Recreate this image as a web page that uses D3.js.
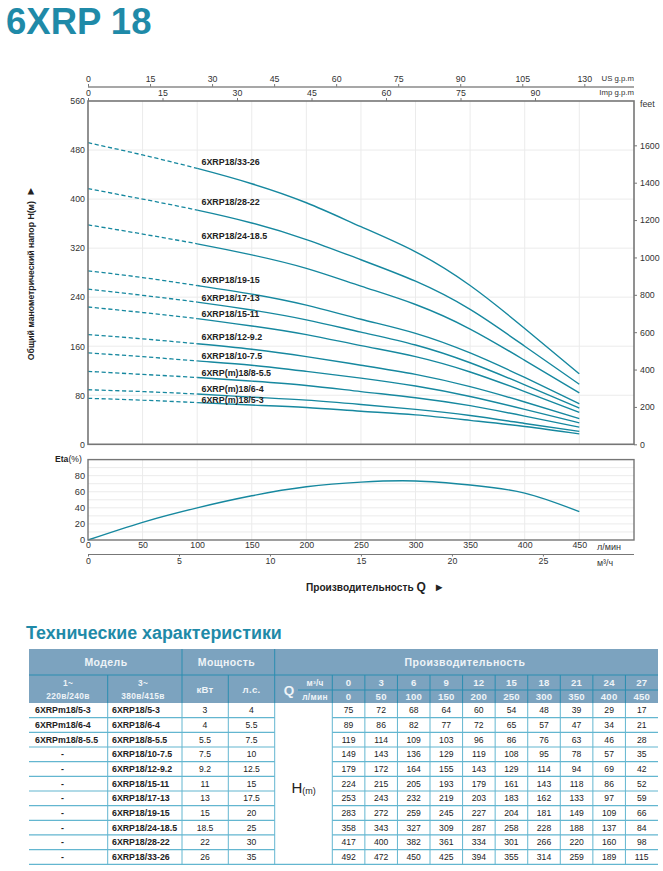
<!DOCTYPE html>
<html>
<head>
<meta charset="utf-8">
<script src="https://cdn.jsdelivr.net/npm/d3@7"></script>
<style>
  html, body { margin: 0; padding: 0; background: #fff; }
  svg { display: block; }
  text { font-family: "Liberation Sans", Arial, sans-serif; fill: #222; }
  .tick text { font-size: 8.8px; fill: #333; }
  .tick line { stroke: #777; }
  .etaTicks .tick text { font-size: 9.2px; }
  .curveLabel { font-size: 8.9px; font-weight: bold; fill: #222; }
  .cell { font-size: 8.6px; fill: #222; }
  .cellBold { font-size: 8.8px; font-weight: bold; fill: #222; }
  .head { font-weight: bold; fill: #eef3f7; }
</style>
</head>
<body>
<div id="chart"></div>
<script>
var flowM3h = [0, 3, 6, 9, 12, 15, 18, 21, 24, 27];
var flowLpm = [0, 50, 100, 150, 200, 250, 300, 350, 400, 450];

var modelsSingle = ["6XRPm18/5-3", "6XRPm18/6-4", "6XRPm18/8-5.5", "-", "-", "-", "-", "-", "-", "-", "-"];
var modelsThree = ["6XRP18/5-3", "6XRP18/6-4", "6XRP18/8-5.5", "6XRP18/10-7.5", "6XRP18/12-9.2", "6XRP18/15-11",
  "6XRP18/17-13", "6XRP18/19-15", "6XRP18/24-18.5", "6XRP18/28-22", "6XRP18/33-26"];
var curveNames = ["6XRP(m)18/5-3", "6XRP(m)18/6-4", "6XRP(m)18/8-5.5", "6XRP18/10-7.5", "6XRP18/12-9.2", "6XRP18/15-11",
  "6XRP18/17-13", "6XRP18/19-15", "6XRP18/24-18.5", "6XRP18/28-22", "6XRP18/33-26"];
var powerKw = ["3", "4", "5.5", "7.5", "9.2", "11", "13", "15", "18.5", "22", "26"];
var powerHp = ["4", "5.5", "7.5", "10", "12.5", "15", "17.5", "20", "25", "30", "35"];

var head5 = [75, 72, 68, 64, 60, 54, 48, 39, 29, 17];
var head6 = [89, 86, 82, 77, 72, 65, 57, 47, 34, 21];
var head8 = [119, 114, 109, 103, 96, 86, 76, 63, 46, 28];
var head10 = [149, 143, 136, 129, 119, 108, 95, 78, 57, 35];
var head12 = [179, 172, 164, 155, 143, 129, 114, 94, 69, 42];
var head15 = [224, 215, 205, 193, 179, 161, 143, 118, 86, 52];
var head17 = [253, 243, 232, 219, 203, 183, 162, 133, 97, 59];
var head19 = [283, 272, 259, 245, 227, 204, 181, 149, 109, 66];
var head24 = [358, 343, 327, 309, 287, 258, 228, 188, 137, 84];
var head28 = [417, 400, 382, 361, 334, 301, 266, 220, 160, 98];
var head33 = [492, 472, 450, 425, 394, 355, 314, 259, 189, 115];
var heads = [head5, head6, head8, head10, head12, head15, head17, head19, head24, head28, head33];

var etaQ = [0, 50, 100, 150, 200, 250, 300, 350, 400, 450];
var etaValues = [0, 22, 40, 55, 66.2, 72, 73.4, 68.4, 58.3, 35.3];

var usGpmLabels = ["0", "15", "30", "45", "60", "75", "90", "105", "130"];
var impGpmTicks = [0, 15, 30, 45, 60, 75, 90];
var headTicks = [0, 80, 160, 240, 320, 400, 480, 560];
var feetTicks = [0, 200, 400, 600, 800, 1000, 1200, 1400, 1600];
var etaTicks = [0, 20, 40, 60, 80];
var etaGrid = [10, 20, 30, 40, 50, 60, 70, 80, 90];
var m3hTicks = [0, 5, 10, 15, 20, 25];

var blue = "#1f8aa8";
var teal = "#16889f";
var gray = "#767676";
var gridColor = "#ebebeb";

var svg = d3.select("#chart").append("svg").attr("width", 663).attr("height", 871);

svg.append("text").attr("x", 6).attr("y", 33.5)
  .style("font-size", "36.5px").style("font-weight", "bold").style("fill", blue)
  .text("6XRP 18");

// Main plot
var left = 88, right = 634, top1 = 101, bottom1 = 444.3;
var x = d3.scaleLinear().domain([0, 450]).range([left, 579.3]);
var y = d3.scaleLinear().domain([0, 560]).range([bottom1, top1]);
var yFeet = d3.scaleLinear().domain([0, 560 * 3.2808]).range([bottom1, top1]);
var gridQ = flowLpm.slice(1);

svg.append("g").selectAll("line").data(gridQ).join("line")
  .attr("x1", d => x(d)).attr("x2", d => x(d)).attr("y1", top1).attr("y2", bottom1)
  .attr("stroke", gridColor);
svg.append("g").selectAll("line").data(headTicks.slice(1, -1)).join("line")
  .attr("x1", left).attr("x2", right).attr("y1", d => y(d)).attr("y2", d => y(d))
  .attr("stroke", gridColor);

// curves are dashed up to 100 l/min and solid after, same path clipped in two
var defs = svg.append("defs");
defs.append("clipPath").attr("id", "dashPart").append("rect")
  .attr("x", left).attr("y", top1).attr("width", x(100) - left).attr("height", bottom1 - top1);
defs.append("clipPath").attr("id", "solidPart").append("rect")
  .attr("x", x(100)).attr("y", top1).attr("width", right - x(100)).attr("height", bottom1 - top1);

var line = d3.line().x(d => x(d[0])).y(d => y(d[1])).curve(d3.curveNatural);
heads.forEach(function (h) {
  var pts = flowLpm.map((q, i) => [q, h[i]]);
  svg.append("path").attr("d", line(pts)).attr("fill", "none").attr("clip-path", "url(#dashPart)")
    .attr("stroke", teal).attr("stroke-width", 1.3).attr("stroke-dasharray", "4.2 2.6");
  svg.append("path").attr("d", line(pts)).attr("fill", "none").attr("clip-path", "url(#solidPart)")
    .attr("stroke", teal).attr("stroke-width", 1.4);
});

// how far each curve label sits above its curve at 100 l/min
var labelLift = [2.3, 5, 4.5, 5, 7, 5, 4.5, 6, 7.4, 8, 6.4];
svg.append("g").selectAll("text").data(curveNames).join("text")
  .attr("class", "curveLabel")
  .attr("x", 201.5)
  .attr("y", (d, i) => y(heads[i][2]) - labelLift[i] + 3)
  .text(d => d);

svg.append("rect").attr("x", left).attr("y", top1).attr("width", right - left).attr("height", bottom1 - top1)
  .attr("fill", "none").attr("stroke", gray).attr("stroke-width", 1.6);

var axisLeftG = svg.append("g").attr("transform", "translate(" + left + ",0)")
  .call(d3.axisLeft(y).tickValues(headTicks).tickSize(0).tickPadding(3));
axisLeftG.select(".domain").remove();

var axisRightG = svg.append("g").attr("transform", "translate(" + right + ",0)")
  .call(d3.axisRight(yFeet).tickValues(feetTicks).tickSize(3).tickPadding(3).tickFormat(d3.format("d")));
axisRightG.select(".domain").remove();

svg.append("text").attr("x", 640).attr("y", 107).style("font-size", "8.8px").style("fill", "#333").text("feet");

// Top flow axes
var xUs = d3.scalePoint().domain(usGpmLabels).range([left, 584.3]);
var usG = svg.append("g").attr("transform", "translate(0,87)")
  .call(d3.axisTop(xUs).tickSize(3).tickPadding(2));
usG.select(".domain").remove();
svg.append("line").attr("x1", left).attr("x2", right).attr("y1", 87).attr("y2", 87)
  .attr("stroke", "#8a8a8a").attr("stroke-width", 1.4);

var xImp = d3.scaleLinear().domain([0, 90]).range([left, 535]);
var impG = svg.append("g").attr("transform", "translate(0," + top1 + ")")
  .call(d3.axisTop(xImp).tickValues(impGpmTicks).tickSize(3).tickPadding(2).tickFormat(d3.format("d")));
impG.select(".domain").remove();

svg.append("text").attr("x", 634).attr("y", 80.5).attr("text-anchor", "end")
  .style("font-size", "7.8px").style("fill", "#333").text("US g.p.m");
svg.append("text").attr("x", 634).attr("y", 94.5).attr("text-anchor", "end")
  .style("font-size", "7.8px").style("fill", "#333").text("Imp g.p.m");

// text is rotated, so the right-pointing triangle ends up pointing up
var yTitle = svg.append("text").attr("transform", "translate(34,273) rotate(-90)").attr("text-anchor", "middle")
  .style("font-size", "8.7px").style("font-weight", "bold");
yTitle.append("tspan").text("Общий манометрический напор H(м) ");
yTitle.append("tspan").attr("dx", 2).style("font-size", "11px").text("►");

// Efficiency plot
var top2 = 459.6, bottom2 = 540;
var yEta = d3.scaleLinear().domain([0, 100]).range([bottom2, top2]);

svg.append("g").selectAll("line").data(gridQ).join("line")
  .attr("x1", d => x(d)).attr("x2", d => x(d)).attr("y1", top2).attr("y2", bottom2)
  .attr("stroke", gridColor);
svg.append("g").selectAll("line").data(etaGrid).join("line")
  .attr("x1", left).attr("x2", right).attr("y1", d => yEta(d)).attr("y2", d => yEta(d))
  .attr("stroke", gridColor);

var etaLine = d3.line().x(d => x(d[0])).y(d => yEta(d[1])).curve(d3.curveNatural);
svg.append("path").attr("d", etaLine(etaQ.map((q, i) => [q, etaValues[i]])))
  .attr("fill", "none").attr("stroke", teal).attr("stroke-width", 1.4);

svg.append("rect").attr("x", left).attr("y", top2).attr("width", right - left).attr("height", bottom2 - top2)
  .attr("fill", "none").attr("stroke", gray).attr("stroke-width", 1.4);

var etaAxis = svg.append("g").attr("class", "etaTicks").attr("transform", "translate(" + left + ",0)")
  .call(d3.axisLeft(yEta).tickValues(etaTicks).tickSize(0).tickPadding(3));
etaAxis.select(".domain").remove();

var etaLabel = svg.append("text").attr("x", 55).attr("y", 462).style("font-size", "8.6px");
etaLabel.append("tspan").style("font-weight", "bold").text("Eta");
etaLabel.append("tspan").text("(%)");

var lpmAxis = svg.append("g").attr("transform", "translate(0," + bottom2 + ")")
  .call(d3.axisBottom(x).tickValues(flowLpm).tickSize(0).tickPadding(2));
lpmAxis.select(".domain").remove();
svg.append("text").attr("x", 597).attr("y", 549.5).style("font-size", "9px").style("fill", "#333").text("л/мин");

var xM3h = d3.scaleLinear().domain([0, 27]).range([left, 579.3]);
var m3hAxis = svg.append("g").attr("transform", "translate(0,554.5)")
  .call(d3.axisBottom(xM3h).tickValues(m3hTicks).tickSize(2).tickPadding(1).tickFormat(d3.format("d")));
m3hAxis.select(".domain").remove();
svg.append("line").attr("x1", left).attr("x2", right).attr("y1", 554.5).attr("y2", 554.5)
  .attr("stroke", "#777").attr("stroke-width", 1);
svg.append("text").attr("x", 597).attr("y", 565.5).style("font-size", "8.8px").style("fill", "#333").text("м³/ч");

var qTitle = svg.append("text").attr("x", 306).attr("y", 590.5).style("font-size", "10.1px").style("font-weight", "bold");
qTitle.append("tspan").text("Производительность ");
qTitle.append("tspan").style("font-size", "12px").text("Q");
qTitle.append("tspan").attr("dx", 8).style("font-size", "11px").text("►");

svg.append("text").attr("x", 26).attr("y", 638.5)
  .style("font-size", "17.85px").style("font-weight", "bold").style("fill", blue)
  .text("Технические характеристики");

// Table
var tableLeft = 29, tableRight = 658;
var rowTop = 703, rowH = (864.3 - 703) / 11;
var flowX = d3.scaleBand().domain(flowLpm).range([332.3, 658]);
var headFill = "#7ca3bf", divider = "#2b8db0", rowLine = "#63b6d0";

svg.append("rect").attr("x", tableLeft).attr("y", 649).attr("width", tableRight - tableLeft).attr("height", 54)
  .attr("fill", headFill);

function rule(x1, y1, x2, y2, color, w) {
  svg.append("line").attr("x1", x1).attr("y1", y1).attr("x2", x2).attr("y2", y2)
    .attr("stroke", color).attr("stroke-width", w);
}
function headText(tx, ty, size, str, spacing) {
  return svg.append("text").attr("class", "head").attr("x", tx).attr("y", ty)
    .attr("text-anchor", "middle").style("font-size", size + "px")
    .style("letter-spacing", (spacing || 0) + "px").text(str);
}

rule(tableLeft, 675, tableRight, 675, divider, 1);
rule(182, 649, 182, 703, divider, 1);
rule(274.7, 649, 274.7, 703, divider, 1);
rule(107.7, 675, 107.7, 703, divider, 1);
rule(228.3, 675, 228.3, 703, divider, 1);
rule(298, 690, tableRight, 690, divider, 1);
flowLpm.forEach(function (q) { rule(flowX(q), 675, flowX(q), 703, divider, 1); });

headText(106, 666, 10.5, "Модель", 0.4);
headText(226.5, 666, 10.5, "Мощность", 0.4);
headText(465, 666, 10.5, "Производительность", 0.5);
headText(68, 686, 8.4, "1~", 0.3);
headText(68, 699, 8.4, "220в/240в", 0.3);
headText(143, 686, 8.4, "3~", 0.3);
headText(143, 699, 8.4, "380в/415в", 0.3);
headText(205, 693, 9.6, "кВт", 0.3);
headText(251.5, 693, 9.6, "л.с.", 0.3);
headText(289, 695, 13.5, "Q");
headText(315, 686, 8.4, "м³/ч", 0.2);
headText(315, 700, 8.4, "л/мин", 0.3);
flowLpm.forEach(function (q, i) {
  headText(flowX(q) + flowX.bandwidth() / 2, 686, 9.6, flowM3h[i], 0.2);
  headText(flowX(q) + flowX.bandwidth() / 2, 700, 9.6, q, 0.2);
});

// Data rows, one per model
var rowIdx = d3.range(11);
var rows = svg.append("g").selectAll("g").data(rowIdx).join("g")
  .attr("transform", i => "translate(0," + (rowTop + rowH * i) + ")");

rows.append("text").attr("class", "cellBold").attr("y", 10.3)
  .attr("x", i => modelsSingle[i] === "-" ? 61 : 35)
  .text(i => modelsSingle[i]);
rows.append("text").attr("class", "cellBold").attr("x", 112).attr("y", 10.3).text(i => modelsThree[i]);
rows.append("text").attr("class", "cell").attr("x", 205).attr("y", 10.3).attr("text-anchor", "middle").text(i => powerKw[i]);
rows.append("text").attr("class", "cell").attr("x", 251.5).attr("y", 10.3).attr("text-anchor", "middle").text(i => powerHp[i]);

rows.each(function (i) {
  d3.select(this).selectAll("text.val").data(heads[i]).join("text")
    .attr("class", "cell val")
    .attr("x", (d, j) => flowX(flowLpm[j]) + flowX.bandwidth() / 2)
    .attr("y", 10.3).attr("text-anchor", "middle").text(d => d);
});

rowIdx.forEach(function (i) {
  var ly = rowTop + rowH * (i + 1);
  rule(tableLeft, ly, i === 10 ? tableRight : 274.7, ly, rowLine, 1.2);
  if (i < 10) rule(332.3, ly, tableRight, ly, rowLine, 1.2);
});
[107.7, 182, 228.3, 274.7, 332.3].forEach(function (cx) { rule(cx, rowTop, cx, 864.3, rowLine, 1); });
flowLpm.slice(1).forEach(function (q) { rule(flowX(q), rowTop, flowX(q), 864.3, rowLine, 1); });

var hLabel = svg.append("text").attr("x", 291.5).attr("y", 792.5).style("fill", "#222");
hLabel.append("tspan").style("font-size", "15px").text("H");
hLabel.append("tspan").attr("dy", 1).style("font-size", "9px").text("(m)");
</script>
</body>
</html>
